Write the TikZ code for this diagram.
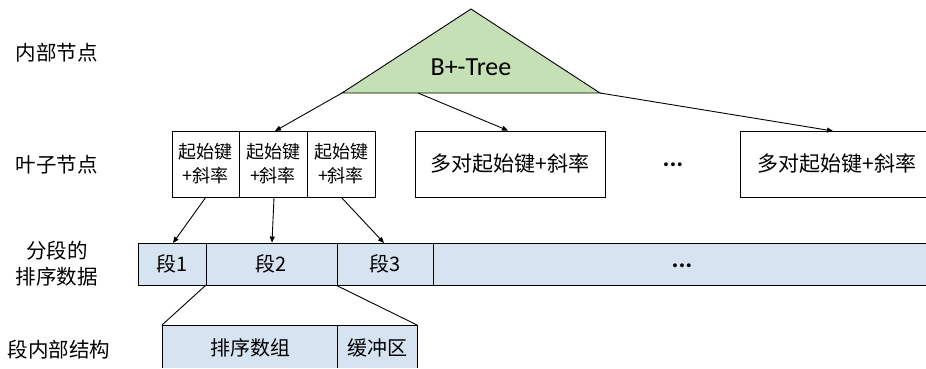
\documentclass[tikz,border=0pt]{standalone}
\usepackage{fontspec}
\setmainfont{Carlito}
\newfontfamily\cjk{Noto Sans CJK SC}
\usetikzlibrary{arrows.meta}
\definecolor{treegreen}{RGB}{197,224,180}
\definecolor{segblue}{RGB}{214,227,240}
\tikzset{
  lbl/.style={font=\cjk\fontsize{20.5}{26}\selectfont, align=center, inner sep=0pt},
  leafbox/.style={draw=black, line width=0.9pt, inner sep=0pt, minimum height=66pt, align=center, font=\cjk\fontsize{18}{24}\selectfont},
  segbox/.style={draw=black, line width=0.9pt, fill=segblue, inner sep=0pt, minimum height=42pt, font=\cjk\fontsize{20}{24}\selectfont},
  bigtxt/.style={font=\cjk\fontsize{21}{25}\selectfont, inner sep=0pt},
  dotstxt/.style={font=\bfseries\fontsize{26}{30}\selectfont, inner sep=0pt},
  conn/.style={line width=0.9pt},
  arr/.style={conn, -{Triangle[length=6pt,width=5pt]}},
}
\begin{document}
\begin{tikzpicture}[x=1pt,y=-1pt]
\useasboundingbox (0,0) rectangle (926,368);
% left labels
\node[lbl] (L1) at (57,53) {内部节点};
\node[lbl] (L2) at (57,165) {叶子节点};
\node[lbl] (L3) at (57,264) {分段的\\排序数据};
\node[lbl] (L4) at (59,350) {段内部结构};
% triangle
\coordinate (ta) at (471,9);
\coordinate (tl) at (342,93);
\coordinate (tr) at (600,93);
\coordinate (tm) at (418,93);
\draw[fill=treegreen, line width=0.9pt] (ta) -- (tl) -- (tr) -- cycle;
\node[font=\fontsize{26}{30}\selectfont, inner sep=0pt] (tree) at (471,67) {B+-Tree};
% leaf row
\node[leafbox, minimum width=67pt] (l1) at (205.5,164) {起始键\\+斜率};
\node[leafbox, minimum width=68pt] (l2) at (273,164) {起始键\\+斜率};
\node[leafbox, minimum width=68pt] (l3) at (341,164) {起始键\\+斜率};
\node[leafbox, minimum width=190pt, font=\cjk\fontsize{21}{25}\selectfont] (m) at (510,164) {多对起始键+斜率};
\node[dotstxt] (dots1) at (673,165) {...};
\fill[white] (740,131) rectangle (926,197);
\draw[line width=0.9pt] (926,131) -- (740,131) -- (740,197) -- (926,197);
\coordinate (rtop) at (833,131);
\node[bigtxt] (r) at (837,164) {多对起始键+斜率};
% arrows from tree
\draw[arr] (tl) -- (275,131);
\draw[arr] (tm) -- (m.north -| 508,0);
\draw[arr] (tr) -- (rtop);
% segment bar
\node[segbox, minimum width=68pt] (s1) at (172,264) {段1};
\node[segbox, minimum width=131pt] (s2) at (271.5,264) {段2};
\node[segbox, minimum width=96pt] (s3) at (385,264) {段3};
\fill[segblue] (433,243) rectangle (926,285);
\draw[line width=0.9pt] (926,243) -- (433,243) -- (433,285) -- (926,285);
\node[dotstxt] (dots2) at (682,266) {...};
% arrows from leaves to segments
\draw[arr] (206,197) -- (173,243);
\draw[arr] (l2.south -| 274,0) -- (s2.north -| 272,0);
\draw[arr] (341,197) -- (384,243);
% segment inner structure
\fill[segblue] (162,325) rectangle (417,368);
\draw[line width=0.9pt] (162,368) -- (162,325) -- (417,325) -- (417,368);
\draw[line width=0.9pt] (337,325) -- (337,368);
\node[font=\cjk\fontsize{20}{24}\selectfont, inner sep=0pt] (b1) at (250,348) {排序数组};
\node[font=\cjk\fontsize{20}{24}\selectfont, inner sep=0pt] (b2) at (377,348) {缓冲区};
\draw[conn] (s2.south west) -- (162,325);
\draw[conn] (s3.south west) -- (417,325);
\end{tikzpicture}
\end{document}
